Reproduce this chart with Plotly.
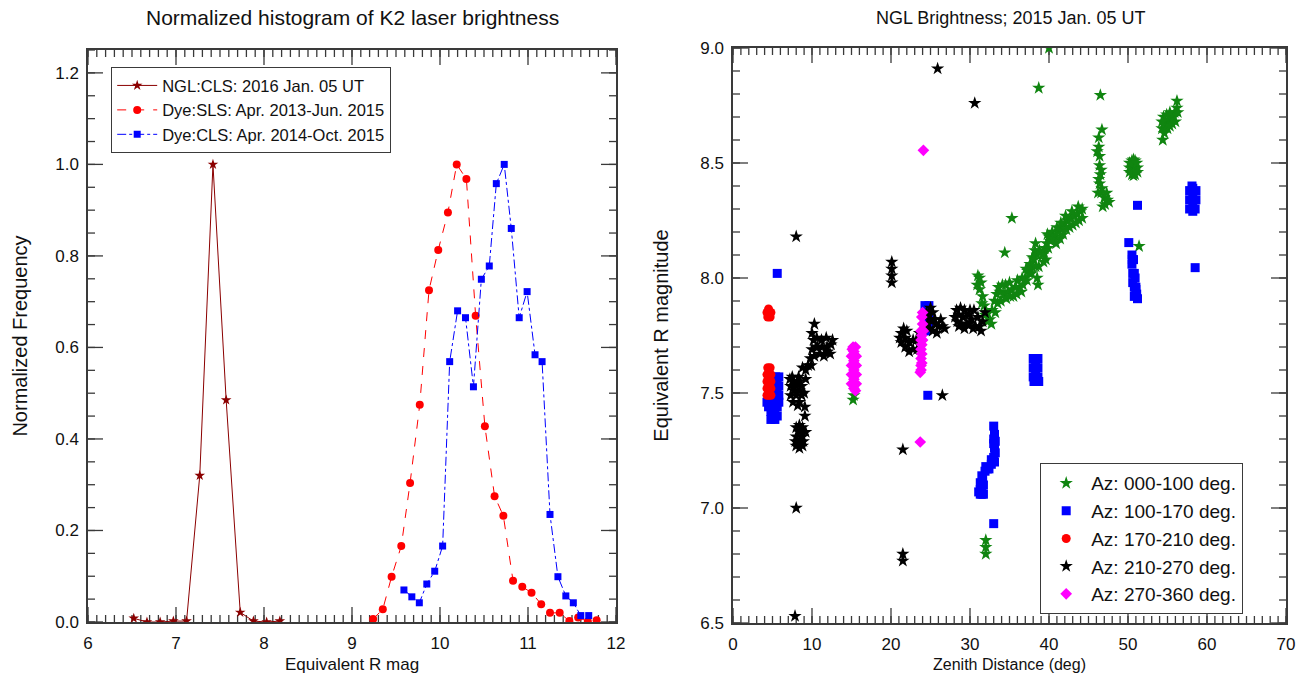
import plotly.graph_objects as go

# ---------------- Left panel: normalized histograms ----------------
ngl_mag = [6.52, 6.67, 6.82, 6.97, 7.12, 7.27, 7.42, 7.57, 7.73, 7.88, 8.03, 8.18]
ngl_freq = [0.008, 0.0, 0.0, 0.002, 0.002, 0.32, 1.0, 0.485, 0.021, 0.002, 0.0, 0.002]

sls_mag = [9.24, 9.35, 9.45, 9.56, 9.66, 9.77, 9.875, 9.98, 10.09, 10.19, 10.30, 10.405,
           10.51, 10.62, 10.72, 10.83, 10.935, 11.04, 11.15, 11.25, 11.36, 11.47, 11.57,
           11.68, 11.78]
sls_freq = [0.0065, 0.028, 0.099, 0.166, 0.304, 0.475, 0.725, 0.813, 0.895, 1.0, 0.968,
            0.669, 0.428, 0.275, 0.232, 0.090, 0.077, 0.064, 0.039, 0.020, 0.020, 0.002,
            0.010, 0.001, 0.004]

cls_mag = [9.59, 9.68, 9.765, 9.85, 9.94, 10.03, 10.11, 10.20, 10.29, 10.38, 10.47, 10.56,
           10.64, 10.73, 10.81, 10.90, 10.99, 11.08, 11.16, 11.25, 11.34, 11.43, 11.515,
           11.60, 11.69]
cls_freq = [0.070, 0.055, 0.042, 0.083, 0.111, 0.166, 0.569, 0.680, 0.665, 0.514, 0.749,
            0.778, 0.958, 1.0, 0.860, 0.665, 0.722, 0.584, 0.569, 0.235, 0.099, 0.057,
            0.042, 0.014, 0.014]

left_xticks = [6, 7, 8, 9, 10, 11, 12]
left_yticks = [0.0, 0.2, 0.4, 0.6, 0.8, 1.0, 1.2]
right_xticks = [0, 10, 20, 30, 40, 50, 60, 70]
right_yticks = [6.5, 7.0, 7.5, 8.0, 8.5, 9.0]

# ---------------- Right panel: NGL brightness vs zenith distance ----------------
az000 = [(40.0, 9.0), (38.7, 8.826), (46.5, 8.795), (46.7, 8.645), (35.3, 8.26), (34.4, 8.11),
         (51.4, 8.138), (15.2, 7.47), (15.3, 7.49), (32.0, 6.86), (32.0, 6.83), (32.0, 6.80),
         (46.3, 8.61), (46.3, 8.57), (46.4, 8.53), (46.4, 8.49), (46.5, 8.45), (46.4, 8.41),
         (46.6, 8.37), (47.0, 8.35), (47.4, 8.34), (47.1, 8.32),
         (46.1, 8.55), (46.6, 8.47), (46.3, 8.43), (46.7, 8.39), (46.2, 8.37), (47.6, 8.33),
         (46.8, 8.31), (47.3, 8.37),
         (50.2, 8.48), (50.7, 8.48), (51.2, 8.48), (50.5, 8.45), (50.9, 8.45), (50.5, 8.51),
         (50.9, 8.51), (50.7, 8.445), (50.7, 8.515), (50.2, 8.46), (51.2, 8.46), (50.2, 8.50),
         (51.1, 8.50),
         (54.3, 8.65), (54.7, 8.67), (55.1, 8.69), (55.5, 8.70), (55.9, 8.72), (56.2, 8.74),
         (55.0, 8.65), (55.6, 8.67), (54.5, 8.70), (56.0, 8.68), (54.4, 8.60),
         (54.6, 8.63), (55.3, 8.66), (55.8, 8.70), (56.3, 8.72), (54.9, 8.71), (55.3, 8.72),
         (56.2, 8.77), (54.3, 8.68),
         (30.9, 7.97), (31.2, 8.0), (31.2, 7.95), (31.6, 7.92), (31.8, 7.88), (32.1, 7.85),
         (31.0, 8.01), (31.4, 7.98), (31.5, 7.89), (31.9, 7.84), (32.2, 7.81),
         (32.5, 7.82), (32.8, 7.86), (33.1, 7.90), (33.4, 7.93), (33.8, 7.94), (34.3, 7.93),
         (34.8, 7.94), (35.3, 7.95), (35.8, 7.96), (36.3, 7.96), (33.5, 7.89), (34.5, 7.97),
         (35.5, 7.92), (36.0, 7.99),
         (32.7, 7.80), (33.2, 7.85), (33.9, 7.90), (34.6, 7.91), (35.1, 7.92), (35.9, 7.93),
         (36.5, 7.94), (33.6, 7.96), (34.1, 7.97), (35.0, 7.98), (36.6, 8.00),
         (36.7, 7.97), (37.0, 8.00), (37.3, 8.03), (37.6, 8.06), (37.9, 8.09), (38.2, 8.12),
         (38.5, 8.10), (38.7, 8.05), (38.5, 8.0), (37.8, 8.02),
         (37.2, 7.99), (37.5, 8.02), (37.8, 8.05), (38.1, 8.08), (38.3, 8.05), (38.8, 8.12),
         (38.6, 7.97), (38.3, 8.15), (37.1, 8.04),
         (39.3, 8.07), (39.4, 8.11), (39.7, 8.15), (40.0, 8.18), (40.4, 8.20), (39.6, 8.08),
         (39.2, 8.10), (39.5, 8.13), (39.9, 8.13), (40.2, 8.16), (39.8, 8.19), (40.5, 8.17),
         (40.8, 8.18), (41.2, 8.20), (41.6, 8.22), (42.0, 8.24), (42.4, 8.25), (42.8, 8.26),
         (43.2, 8.27), (43.6, 8.28), (44.0, 8.29), (41.4, 8.17), (42.6, 8.22), (43.8, 8.25),
         (42.1, 8.27), (43.7, 8.31),
         (41.0, 8.22), (41.8, 8.19), (42.2, 8.21), (43.0, 8.23), (43.4, 8.24), (44.2, 8.26),
         (41.5, 8.24), (42.9, 8.29), (44.2, 8.30), (40.9, 8.15)]

az100 = [(5.4, 7.57), (5.8, 7.57), (5.4, 7.53), (5.8, 7.53), (5.4, 7.49), (5.8, 7.49),
         (4.3, 7.46), (4.8, 7.46), (5.3, 7.46), (5.8, 7.46), (4.8, 7.42), (5.3, 7.42),
         (4.8, 7.385), (5.3, 7.385), (5.6, 7.40), (5.6, 8.02),
         (4.5, 7.44), (5.0, 7.40), (5.0, 7.44), (5.6, 7.44), (5.6, 7.55), (5.6, 7.51),
         (24.3, 7.88), (24.8, 7.88), (24.3, 7.84), (24.8, 7.84), (24.3, 7.80), (24.8, 7.80),
         (24.4, 7.77), (24.66, 7.49), (24.55, 7.86), (24.55, 7.82), (24.55, 7.78),
         (33.0, 7.356), (33.0, 7.30), (33.1, 7.26), (33.0, 7.22), (32.7, 7.19), (32.4, 7.17),
         (31.9, 7.16), (31.5, 7.14), (31.3, 7.11), (31.3, 7.08), (31.3, 7.06), (31.7, 7.06),
         (31.7, 7.10), (32.0, 7.18), (33.2, 7.24), (33.2, 7.29), (33.0, 6.932),
         (33.1, 7.32), (33.0, 7.28), (33.1, 7.20), (32.7, 7.21), (32.2, 7.17), (31.6, 7.13),
         (31.5, 7.09), (31.1, 7.07), (31.5, 7.06),
         (38.0, 7.65), (38.6, 7.65), (38.0, 7.61), (38.6, 7.61), (38.0, 7.57), (38.6, 7.57),
         (38.1, 7.55), (38.7, 7.55), (38.3, 7.63), (38.3, 7.59), (38.3, 7.56),
         (51.2, 8.316), (50.1, 8.154),
         (50.5, 8.10), (50.5, 8.06), (50.6, 8.02), (50.6, 7.98), (50.9, 8.00), (51.0, 7.96),
         (51.1, 7.93), (50.8, 7.92), (51.2, 7.91), (50.7, 8.08),
         (50.55, 8.08), (50.8, 7.96), (50.8, 8.02), (51.0, 7.95),
         (58.5, 8.045),
         (57.8, 8.38), (58.6, 8.38), (57.8, 8.34), (58.6, 8.34), (57.8, 8.30), (58.5, 8.30),
         (58.2, 8.39), (58.2, 8.36), (58.2, 8.32), (58.2, 8.29), (58.1, 8.40)]

az170 = [(4.3, 7.85), (4.8, 7.85), (4.4, 7.83), (4.7, 7.83), (4.5, 7.865),
         (4.3, 7.49), (4.8, 7.49), (4.3, 7.52), (4.8, 7.52), (4.3, 7.55), (4.8, 7.55),
         (4.3, 7.58), (4.8, 7.58), (4.4, 7.61), (4.7, 7.61), (4.5, 7.50),
         (4.55, 7.53), (4.55, 7.57), (4.55, 7.60), (4.55, 7.49)]

az210 = [(8.0, 8.18), (8.0, 7.0), (7.85, 6.53), (25.9, 8.91), (30.6, 8.76), (26.5, 7.49),
         (21.5, 7.254), (10.3, 7.80), (9.1, 7.44), (9.1, 7.40), (21.5, 6.80), (21.5, 6.77),
         (7.5, 7.57), (8.3, 7.57), (7.3, 7.53), (8.0, 7.53), (8.7, 7.53), (7.3, 7.49),
         (8.0, 7.49), (8.7, 7.49), (7.6, 7.46), (8.4, 7.46), (9.2, 7.56),
         (7.7, 7.55), (8.4, 7.55), (7.7, 7.51), (8.4, 7.51), (7.2, 7.56), (9.0, 7.50), (8.2, 7.445),
         (8.8, 7.61), (9.5, 7.62), (9.8, 7.65), (10.0, 7.69), (10.2, 7.73), (10.0, 7.76),
         (10.7, 7.70), (11.3, 7.70), (11.9, 7.70), (12.4, 7.71), (11.0, 7.67), (11.8, 7.74),
         (12.3, 7.67),
         (9.2, 7.60), (9.9, 7.62), (10.3, 7.66), (10.5, 7.70), (10.6, 7.74), (11.2, 7.73),
         (12.0, 7.68), (12.6, 7.73), (11.5, 7.66),
         (8.0, 7.35), (8.8, 7.35), (8.0, 7.31), (8.8, 7.31), (8.0, 7.27), (8.8, 7.27),
         (9.2, 7.33), (8.4, 7.36), (8.4, 7.33), (8.4, 7.29), (8.4, 7.26), (7.9, 7.29), (8.9, 7.29),
         (20.1, 8.07), (20.1, 8.04), (20.1, 8.01), (20.1, 7.98),
         (21.3, 7.76), (21.3, 7.72), (21.8, 7.70), (22.3, 7.72), (22.8, 7.69), (23.2, 7.73),
         (23.6, 7.76), (21.6, 7.78),
         (21.1, 7.74), (21.8, 7.74), (22.3, 7.68), (22.8, 7.73), (23.3, 7.69), (23.8, 7.72),
         (22.0, 7.77),
         (24.5, 7.85), (25.0, 7.87), (25.0, 7.82), (25.5, 7.82), (26.0, 7.79), (26.5, 7.79),
         (25.3, 7.77), (24.6, 7.80),
         (24.8, 7.84), (25.3, 7.85), (25.7, 7.80), (26.3, 7.82), (26.8, 7.78), (25.8, 7.76),
         (24.9, 7.78),
         (28.3, 7.86), (28.8, 7.87), (29.3, 7.86), (29.8, 7.84), (28.4, 7.81), (28.9, 7.80),
         (29.6, 7.80), (30.2, 7.82), (30.7, 7.79), (31.2, 7.79), (31.6, 7.81), (31.9, 7.85),
         (30.5, 7.86), (31.0, 7.83),
         (28.1, 7.83), (28.6, 7.84), (29.1, 7.83), (29.9, 7.80), (30.4, 7.78), (31.4, 7.77),
         (30.0, 7.86), (28.6, 7.79), (29.3, 7.78)]

az270 = [(15.2, 7.70), (15.5, 7.70), (15.0, 7.66), (15.6, 7.66), (15.0, 7.62), (15.6, 7.62),
         (15.0, 7.58), (15.6, 7.58), (15.0, 7.54), (15.6, 7.54), (15.3, 7.52), (15.3, 7.60),
         (15.3, 7.68), (15.3, 7.64), (15.3, 7.56), (15.1, 7.69), (15.5, 7.51),
         (24.0, 7.85), (24.0, 7.80), (23.8, 7.77), (24.1, 7.77), (23.8, 7.73), (24.0, 7.73),
         (23.8, 7.69), (23.8, 7.65), (23.8, 7.62), (23.7, 7.59),
         (23.9, 7.83), (23.9, 7.75), (23.9, 7.71), (23.9, 7.67), (23.9, 7.63), (23.8, 7.60),
         (24.1, 8.555), (23.7, 7.287)]

FONT = "Liberation Sans, Arial, Helvetica, sans-serif"
W, H = 1309, 681
AXC = "#3a3a3a"


def px(xp):
    return xp / W


def py(yp):
    return 1 - yp / H


xl_dom = [px(88), px(616)]
yl_dom = [py(622), py(50)]
xr_dom = [px(733), px(1286)]
yr_dom = [py(623), py(48)]
XL_RANGE, YL_RANGE = [6, 12], [0, 1.25]
XR_RANGE, YR_RANGE = [0, 70], [6.5, 9.0]


def frange(a, b, step):
    n = int(round((b - a) / step))
    return [a + i * step for i in range(n + 1)]


def frame_ticks(xrng, yrng, dom_x, dom_y, xmaj, xmin_step, ymaj, ymin_step, major_px=15, minor_px=7):
    """IDL-style inward ticks on all four sides, expressed in the axes' own data units."""
    wpx = (dom_x[1] - dom_x[0]) * W
    hpx = (dom_y[1] - dom_y[0]) * H
    dx = (xrng[1] - xrng[0]) / wpx   # data units per pixel in x
    dy = (yrng[1] - yrng[0]) / hpx   # data units per pixel in y
    xs, ys = [], []
    x_min = frange(xrng[0], xrng[1], xmin_step)
    y_min = frange(yrng[0], yrng[1], ymin_step)
    for vals, L in ((x_min, minor_px), (xmaj, major_px)):
        for v in vals:
            xs += [v, v, None, v, v, None]
            ys += [yrng[0], yrng[0] + L * dy, None, yrng[1], yrng[1] - L * dy, None]
    for vals, L in ((y_min, minor_px), (ymaj, major_px)):
        for v in vals:
            xs += [xrng[0], xrng[0] + L * dx, None, xrng[1], xrng[1] - L * dx, None]
            ys += [v, v, None, v, v, None]
    return xs, ys


fig = go.Figure()

# tick marks (drawn first so data sit on top)
tx, ty = frame_ticks(XL_RANGE, YL_RANGE, xl_dom, yl_dom, left_xticks, 0.1, left_yticks, 0.05)
fig.add_trace(go.Scatter(x=tx, y=ty, mode="lines", line=dict(color=AXC, width=1.3),
                         hoverinfo="skip", showlegend=False, xaxis="x", yaxis="y"))
tx, ty = frame_ticks(XR_RANGE, YR_RANGE, xr_dom, yr_dom, right_xticks, 1, right_yticks, 0.1)
fig.add_trace(go.Scatter(x=tx, y=ty, mode="lines", line=dict(color=AXC, width=1.3),
                         hoverinfo="skip", showlegend=False, xaxis="x2", yaxis="y2"))

fig.add_trace(go.Scatter(x=ngl_mag, y=ngl_freq, mode="lines+markers", name="NGL:CLS: 2016 Jan. 05 UT",
                         line=dict(color="#8B0000", width=1),
                         marker=dict(symbol="star", size=8, color="#8B0000"),
                         xaxis="x", yaxis="y", legend="legend"))
fig.add_trace(go.Scatter(x=sls_mag, y=sls_freq, mode="lines+markers", name="Dye:SLS: Apr. 2013-Jun. 2015",
                         line=dict(color="#FF0000", width=1, dash="dash"),
                         marker=dict(symbol="circle", size=8, color="#FF0000"),
                         xaxis="x", yaxis="y", legend="legend"))
fig.add_trace(go.Scatter(x=cls_mag, y=cls_freq, mode="lines+markers", name="Dye:CLS: Apr. 2014-Oct. 2015",
                         line=dict(color="#0000FF", width=1, dash="dashdot"),
                         marker=dict(symbol="square", size=7, color="#0000FF"),
                         xaxis="x", yaxis="y", legend="legend"))

groups = [
    ("Az: 000-100 deg.", az000, "star", 10, "#108510"),
    ("Az: 100-170 deg.", az100, "square", 9, "#0000FF"),
    ("Az: 170-210 deg.", az170, "circle", 9, "#FF0000"),
    ("Az: 210-270 deg.", az210, "star", 10, "#000000"),
    ("Az: 270-360 deg.", az270, "diamond", 9, "#FF00FF"),
]
for name, pts, sym, size, col in groups:
    fig.add_trace(go.Scatter(x=[p[0] for p in pts], y=[p[1] for p in pts], mode="markers", name=name,
                             marker=dict(symbol=sym, size=size, color=col, line=dict(width=0)),
                             xaxis="x2", yaxis="y2", legend="legend2"))

tickfont = dict(family=FONT, size=17, color="#111111")
base = dict(showline=True, linecolor=AXC, linewidth=1.5, mirror=True,
            ticks="", showgrid=False, zeroline=False, automargin=False, tickmode="array")

fig.update_layout(
    width=W, height=H,
    margin=dict(l=0, r=0, t=0, b=0, autoexpand=False),
    paper_bgcolor="white", plot_bgcolor="white",
    font=dict(family=FONT, color="#111111"),
    xaxis=dict(domain=xl_dom, range=XL_RANGE, tickvals=left_xticks,
               tickfont=tickfont, ticklabelstandoff=5,
               title=dict(text="Equivalent R mag", font=dict(size=17), standoff=6),
               anchor="y", **base),
    yaxis=dict(domain=yl_dom, range=YL_RANGE, tickvals=left_yticks,
               ticktext=[f"{v:.1f}" for v in left_yticks],
               tickfont=tickfont, ticklabelstandoff=4,
               title=dict(text="Normalized Frequency", font=dict(size=20), standoff=22),
               anchor="x", **base),
    xaxis2=dict(domain=xr_dom, range=XR_RANGE, tickvals=right_xticks,
                tickfont=tickfont, ticklabelstandoff=5,
                title=dict(text="Zenith Distance (deg)", font=dict(size=16), standoff=6),
                anchor="y2", **base),
    yaxis2=dict(domain=yr_dom, range=YR_RANGE, tickvals=right_yticks,
                ticktext=[f"{v:.1f}" for v in right_yticks],
                tickfont=tickfont, ticklabelstandoff=4,
                title=dict(text="Equivalent R magnitude", font=dict(size=20), standoff=26),
                anchor="x2", **base),
    legend=dict(x=px(111), y=py(67), xanchor="left", yanchor="top",
                bgcolor="white", bordercolor=AXC, borderwidth=1.2,
                font=dict(family=FONT, size=16.5, color="#111111"), tracegroupgap=0,
                itemwidth=40),
    legend2=dict(x=px(1040), y=py(463), xanchor="left", yanchor="top",
                 bgcolor="white", bordercolor=AXC, borderwidth=1.2,
                 font=dict(family=FONT, size=19, color="#111111"), tracegroupgap=0,
                 itemwidth=40),
    annotations=[
        dict(text="Normalized histogram of K2 laser brightness", x=px(352), y=py(18),
             xref="paper", yref="paper", showarrow=False, xanchor="center", yanchor="middle",
             font=dict(family=FONT, size=21, color="#111111")),
        dict(text="NGL Brightness; 2015 Jan. 05 UT", x=px(1010), y=py(18),
             xref="paper", yref="paper", showarrow=False, xanchor="center", yanchor="middle",
             font=dict(family=FONT, size=18, color="#111111")),
    ],
)

fig.write_html("out.html", config={"displayModeBar": False},
               post_script="document.body.style.margin='0px';")
